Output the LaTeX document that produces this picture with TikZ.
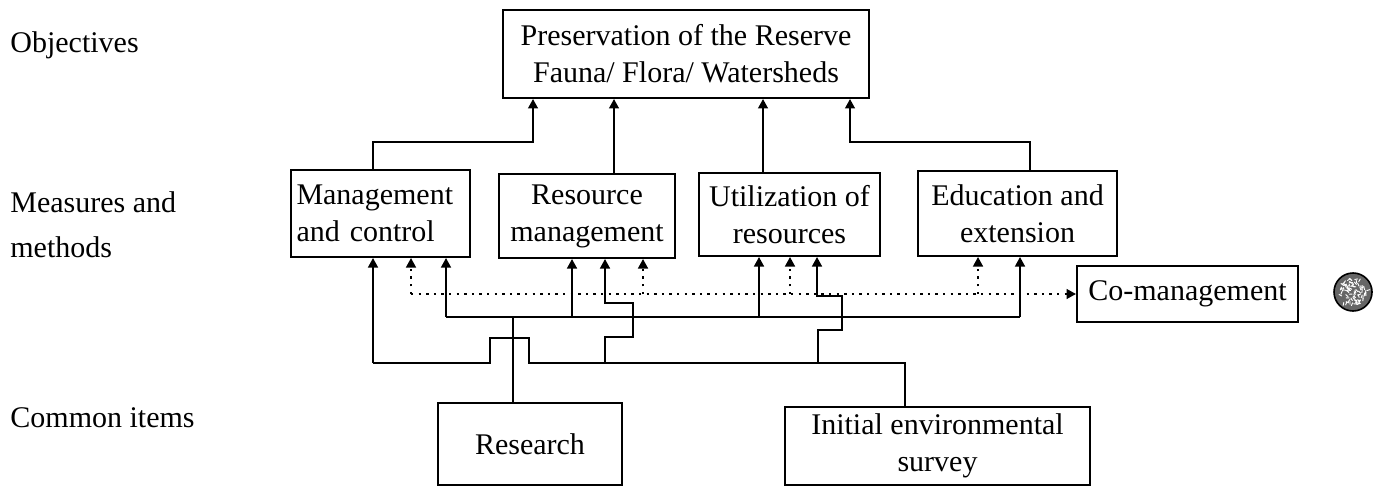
\documentclass[tikz,border=0pt]{standalone}
\usepackage{fontspec}
\setmainfont{Liberation Serif}
\usetikzlibrary{arrows.meta,calc}
\begin{document}
\begin{tikzpicture}[x=0.5pt,y=-0.5pt,
  font=\fontsize{15}{18.5}\selectfont,
  box/.style={draw, line width=0.9pt, inner sep=0pt, align=center},
  lbl/.style={anchor=base west, inner sep=0pt},
  wire/.style={line width=1.25pt},
  arr/.style={wire, -{Triangle[length=4.8pt,width=4.8pt]}},
  dots/.style={line width=1.25pt, dash pattern=on 1.2pt off 2.6pt},
  darr/.style={dots, -{Triangle[length=4.8pt,width=4.8pt]}},
]
\useasboundingbox (0,0) rectangle (1379,486);

% boxes
\node[box, minimum width=183pt, minimum height=44pt] (obj) at (686,54) {Preservation of the Reserve\\Fauna/ Flora/ Watersheds};
\node[box, minimum width=89.5pt, minimum height=43.5pt, text width=84pt, align=left] (mgmt) at (380.5,213.5) {Management\\and control};
\node[box, minimum width=88pt, minimum height=42pt] (resm) at (587,216) {Resource\\management};
\node[box, minimum width=90.5pt, minimum height=41.5pt] (util) at (789.5,214.5) {Utilization of\\resources};
\node[box, minimum width=99.5pt, minimum height=42.5pt] (edu) at (1017.5,213.5) {Education and\\extension};
\node[box, minimum width=110.5pt, minimum height=28pt] (comg) at (1187.5,294) {Co-management};
\node[box, minimum width=92pt, minimum height=41pt] (rsch) at (530,444) {Research};
\node[box, minimum width=152.5pt, minimum height=39pt] (ies) at (937.5,446) {Initial environmental\\survey};

% row labels
\node[lbl] (lo) at (10,53) {Objectives};
\node[lbl] (lm1) at (10,213) {Measures and};
\node[lbl] (lm2) at (10,257) {methods};
\node[lbl] (lc) at (10,427) {Common items};

% textured ball
\node[circle, fill=black!60, draw=black, line width=0.8pt, minimum size=19pt, inner sep=0pt] (ball) at (1353,292) {};
\pgfmathsetseed{11}
\foreach \i in {1,...,80}{
  \pgfmathsetmacro{\ang}{360*rnd}
  \pgfmathsetmacro{\rad}{14*sqrt(rnd)}
  \pgfmathsetmacro{\dir}{360*rnd}
  \draw[white, line width=0.45pt] ($(ball)+(\ang:\rad)$) -- ++(\dir:3.5);
}

% measures -> objective
\draw[arr] (373,0 |- mgmt.north) |- (533,142) -- (533,0 |- obj.south);
\draw[arr] (614,0 |- resm.north) -- (614,0 |- obj.south);
\draw[arr] (763,0 |- util.north) -- (763,0 |- obj.south);
\draw[arr] (1030,0 |- edu.north) |- (850,142) -- (850,0 |- obj.south);

% research bus
\coordinate (rj) at (513,317);
\draw[wire] (rj |- rsch.north) -- (rj);
\draw[wire] (446,317) -- (1020,317);
\draw[arr] (446,317) -- (446,0 |- mgmt.south);
\draw[arr] (572,317) -- (572,0 |- resm.south);
\draw[arr] (759,317) -- (759,0 |- util.south);
\draw[arr] (1020,317) -- (1020,0 |- edu.south);

% initial environmental survey bus
\coordinate (ij) at (905,363);
\draw[wire] (ij |- ies.north) -- (ij) -- (529,363) -- (529,338) -- (490,338) -- (490,363) -- (373,363);
\draw[arr] (373,363) -- (373,0 |- mgmt.south);
\draw[arr] (605,363) -- (605,337) -- (633,337) -- (633,303) -- (605,303) -- (605,0 |- resm.south);
\draw[arr] (818,363) -- (818,330) -- (842,330) -- (842,296) -- (817,296) -- (817,0 |- util.south);

% co-management (dotted)
\draw[darr] (411,294) -- (comg.west);
\draw[darr] (411,294) -- (411,0 |- mgmt.south);
\draw[darr] (643,294) -- (643,0 |- resm.south);
\draw[darr] (790,294) -- (790,0 |- util.south);
\draw[darr] (978,294) -- (978,0 |- edu.south);
\end{tikzpicture}
\end{document}
